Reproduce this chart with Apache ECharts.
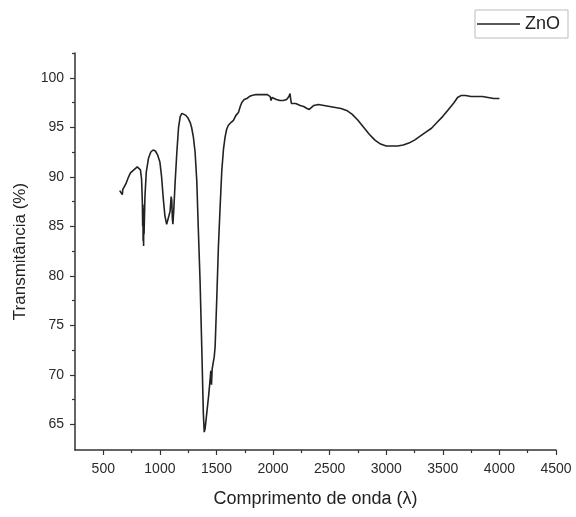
<!DOCTYPE html>
<html>
<head>
<meta charset="utf-8">
<script src="https://cdn.jsdelivr.net/npm/echarts@6/dist/echarts.min.js"></script>
<style>html,body{margin:0;padding:0;background:#fff}#c{width:576px;height:517px}</style>
</head>
<body>
<div id="c"></div>
<script>
const wavelength = [645,655,662,668,672,685,700,720,740,760,780,800,815,828,838,845,848,850,852,854,856,858,860,863,868,880,900,920,940,960,980,1000,1015,1030,1045,1060,1075,1090,1100,1105,1110,1115,1122,1135,1150,1165,1180,1195,1210,1230,1250,1267,1280,1296,1311,1326,1340,1355,1370,1384,1392,1400,1414,1430,1443,1450,1456,1462,1470,1480,1488,1503,1517,1532,1547,1562,1576,1590,1605,1630,1650,1672,1694,1710,1724,1745,1768,1790,1812,1850,1900,1950,1975,1982,1990,2000,2030,2060,2090,2120,2140,2150,2155,2162,2175,2200,2240,2270,2300,2320,2335,2360,2400,2450,2500,2550,2600,2650,2700,2750,2800,2850,2900,2950,3000,3050,3100,3150,3200,3250,3300,3350,3400,3450,3500,3550,3600,3630,3660,3700,3750,3800,3850,3900,3950,4000];
const transmittance = [88.6,88.8,88.4,88.2,88.7,88.9,89.3,89.9,90.4,90.6,90.8,91.0,91.0,90.7,89.8,87.5,85.0,87.2,83.5,86.8,83.0,86.0,84.2,85.5,88.0,90.5,91.9,92.5,92.7,92.6,92.2,91.5,90.0,87.8,86.0,85.2,85.3,86.5,88.0,87.6,85.8,85.2,86.5,89.5,92.5,95.0,96.1,96.4,96.35,96.2,95.9,95.5,95.0,94.0,92.5,89.6,84.6,79.5,72.8,66.1,64.2,64.6,66.1,67.8,69.4,70.4,69.0,70.6,70.8,71.8,72.8,77.8,82.9,86.9,90.6,92.8,94.0,94.8,95.2,95.5,95.7,96.2,96.5,97.1,97.5,97.8,97.9,98.1,98.2,98.3,98.3,98.3,98.1,97.7,98.0,97.8,97.8,97.7,97.7,97.8,98.1,98.4,97.9,97.4,97.6,97.4,97.2,97.1,96.9,96.8,97.0,97.2,97.3,97.2,97.1,97.0,96.9,96.7,96.3,95.7,95.0,94.3,93.7,93.3,93.1,93.1,93.1,93.2,93.4,93.7,94.1,94.5,94.9,95.5,96.1,96.8,97.5,98.0,98.2,98.2,98.1,98.1,98.1,98.0,97.9,97.9];
const xMajorTicks = [500,1000,1500,2000,2500,3000,3500,4000,4500];
const xMinorTicks = [750,1250,1750,2250,2750,3250,3750,4250];
const yMajorTicks = [65,70,75,80,85,90,95,100];
const yMinorTicks = [67.5,72.5,77.5,82.5,87.5,92.5,97.5,102.5];
const seriesName = 'ZnO';
const xTitle = 'Comprimento de onda (λ)';
const yTitle = 'Transmitância (%)';

const FONT = '"Liberation Sans", Arial, sans-serif';
const AX = '#333';
const xMin = 250, xMax = 4500, yMin = 62.4, yMax = 102.5;

const chart = echarts.init(document.getElementById('c'), null, {renderer: 'canvas'});
const data = wavelength.map((w, i) => [w, transmittance[i]]);
const plain = v => String(v);

chart.setOption({
  animation: false,
  backgroundColor: '#fff',
  grid: {left: 75, right: 20, top: 53, bottom: 67, containLabel: false},
  legend: {
    left: 475, top: 10,
    data: [{name: seriesName, icon: 'rect'}],
    itemWidth: 43, itemHeight: 1.5, itemGap: 5,
    itemStyle: {color: '#222', borderWidth: 0},
    padding: [4, 8, 4, 2],
    borderColor: '#bbb', borderWidth: 1,
    textStyle: {fontFamily: FONT, fontSize: 18, color: '#222', lineHeight: 20},
    selectedMode: false
  },
  xAxis: [{
    type: 'value', min: xMin, max: xMax,
    name: xTitle, nameLocation: 'middle', nameGap: 40,
    nameTextStyle: {fontFamily: FONT, fontSize: 18, color: '#222'},
    axisLine: {show: true, onZero: false, lineStyle: {color: AX, width: 1.5}},
    axisTick: {show: true, length: 5, customValues: xMajorTicks, lineStyle: {color: AX, width: 1.2}},
    axisLabel: {customValues: xMajorTicks, formatter: plain, margin: 12, fontFamily: FONT, fontSize: 14, color: '#2a2a2a'},
    splitLine: {show: false}
  }, {
    type: 'value', min: xMin, max: xMax, position: 'bottom',
    axisLine: {show: false},
    axisTick: {show: true, length: 3, customValues: xMinorTicks, lineStyle: {color: AX, width: 1.2}},
    axisLabel: {show: false},
    splitLine: {show: false}
  }],
  yAxis: [{
    type: 'value', min: yMin, max: yMax,
    name: yTitle, nameLocation: 'middle', nameGap: 46,
    nameTextStyle: {fontFamily: FONT, fontSize: 17, color: '#222'},
    axisLine: {show: true, onZero: false, lineStyle: {color: AX, width: 1.5}},
    axisTick: {show: true, length: 5, customValues: yMajorTicks, lineStyle: {color: AX, width: 1.2}},
    axisLabel: {customValues: yMajorTicks, formatter: plain, margin: 11, fontFamily: FONT, fontSize: 14, color: '#2a2a2a'},
    splitLine: {show: false}
  }, {
    type: 'value', min: yMin, max: yMax, position: 'left',
    axisLine: {show: false},
    axisTick: {show: true, length: 3, customValues: yMinorTicks, lineStyle: {color: AX, width: 1.2}},
    axisLabel: {show: false},
    splitLine: {show: false}
  }],
  series: [{
    name: seriesName, type: 'line', data: data,
    xAxisIndex: 0, yAxisIndex: 0,
    showSymbol: false, symbol: 'none',
    lineStyle: {color: '#222', width: 1.6},
    itemStyle: {color: '#222'}
  }]
});
</script>
</body>
</html>
